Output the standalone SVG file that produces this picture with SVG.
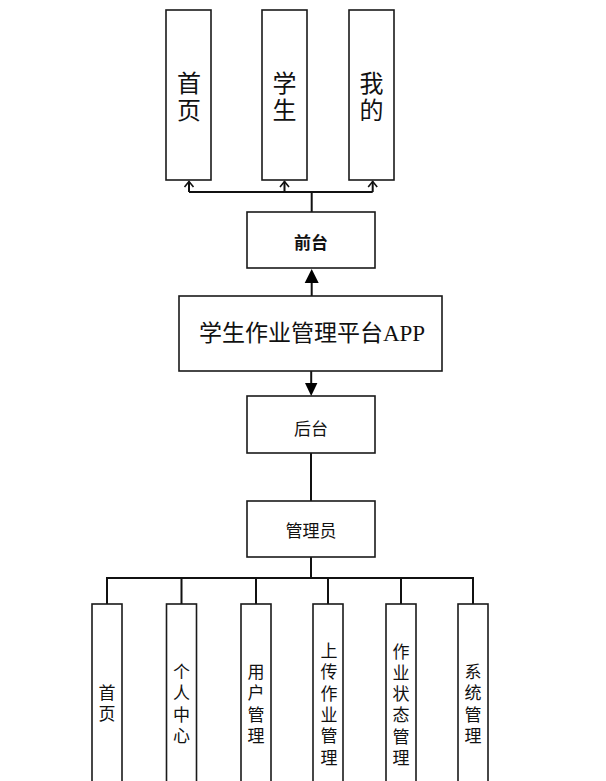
<svg xmlns="http://www.w3.org/2000/svg" width="606" height="781" viewBox="0 0 606 781">
<style>
.box{fill:#fff;stroke:#1a1a1a;stroke-width:1.6}
.ln{fill:none;stroke:#111;stroke-width:2}
.chev{fill:none;stroke:#111;stroke-width:1.6}
.serif{font-family:"Liberation Serif","Noto Sans CJK SC",serif;fill:#111;text-anchor:middle}
.sans{font-family:"Noto Sans CJK SC","Liberation Sans",sans-serif;fill:#111;text-anchor:middle}
.big{font-size:24px}
.small{font-size:17px}
.mid{font-size:17px}
</style>
<g id="connectors">
<path class="ln" d="M311.7,212 V192"/>
<path class="ln" d="M189,192 H372.7"/>
<path class="ln" d="M189,192 V181.5 M284.5,192 V181.5 M372.7,192 V181.5"/>
<path class="chev" d="M184.5,187 L189,181.5 L193.5,187 M280,187 L284.5,181.5 L289,187 M368.2,187 L372.7,181.5 L377.2,187"/>
<path class="ln" d="M311.7,296 V282"/>
<path d="M311.7,269 L318.7,283 L304.7,283 Z" fill="#000"/>
<path class="ln" d="M311.2,371 V383"/>
<path d="M311.2,396 L305,383 L317.4,383 Z" fill="#000"/>
<path class="ln" d="M311,453 V501"/>
<path class="ln" d="M311,557 V578"/>
<path class="ln" d="M107,604 V578 H473 V604"/>
<path class="ln" d="M181.5,578 V604 M256,578 V604 M328,578 V604 M401,578 V604"/>
</g>
<g id="n-shouye">
<rect class="box" x="166" y="10" width="45" height="170"/>
<text class="serif big" x="189" y="92">首</text>
<text class="serif big" x="189" y="119">页</text>
</g>
<g id="n-xuesheng">
<rect class="box" x="262" y="10" width="45" height="170"/>
<text class="serif big" x="284.5" y="92">学</text>
<text class="serif big" x="284.5" y="119">生</text>
</g>
<g id="n-wode">
<rect class="box" x="349" y="10" width="45" height="170"/>
<text class="serif big" x="371.5" y="92">我</text>
<text class="serif big" x="371.5" y="119">的</text>
</g>
<g id="n-qiantai">
<rect class="box" x="247" y="212" width="128" height="56"/>
<text class="sans mid" x="311" y="249" font-weight="bold">前台</text>
</g>
<g id="n-app">
<rect class="box" x="179" y="296" width="263" height="75"/>
<text class="serif" x="312" y="341" font-size="23">学生作业管理平台APP</text>
</g>
<g id="n-houtai">
<rect class="box" x="247" y="396" width="128" height="57"/>
<text class="sans mid" x="311" y="435">后台</text>
</g>
<g id="n-guanliyuan">
<rect class="box" x="247" y="501" width="128" height="56"/>
<text class="sans mid" x="311" y="537">管理员</text>
</g>
<g id="b-shouye">
<rect class="box" x="92" y="604" width="30" height="190"/>
<text class="serif small" x="107" y="699">首</text>
<text class="serif small" x="107" y="720.3">页</text>
</g>
<g id="b-geren">
<rect class="box" x="166.5" y="604" width="30" height="190"/>
<text class="serif small" x="181.5" y="678">个</text>
<text class="serif small" x="181.5" y="699.3">人</text>
<text class="serif small" x="181.5" y="720.6">中</text>
<text class="serif small" x="181.5" y="742">心</text>
</g>
<g id="b-yonghu">
<rect class="box" x="241" y="604" width="30" height="190"/>
<text class="serif small" x="256" y="678">用</text>
<text class="serif small" x="256" y="699.3">户</text>
<text class="serif small" x="256" y="720.6">管</text>
<text class="serif small" x="256" y="742">理</text>
</g>
<g id="b-shangchuan">
<rect class="box" x="313" y="604" width="30" height="190"/>
<text class="serif small" x="329" y="657">上</text>
<text class="serif small" x="329" y="678.3">传</text>
<text class="serif small" x="329" y="699.6">作</text>
<text class="serif small" x="329" y="720.9">业</text>
<text class="serif small" x="329" y="742.2">管</text>
<text class="serif small" x="329" y="763.5">理</text>
</g>
<g id="b-zhuangtai">
<rect class="box" x="386" y="604" width="30" height="190"/>
<text class="serif small" x="401" y="657.5">作</text>
<text class="serif small" x="401" y="678.8">业</text>
<text class="serif small" x="401" y="700.1">状</text>
<text class="serif small" x="401" y="721.4">态</text>
<text class="serif small" x="401" y="742.7">管</text>
<text class="serif small" x="401" y="764">理</text>
</g>
<g id="b-xitong">
<rect class="box" x="458" y="604" width="30" height="190"/>
<text class="serif small" x="473" y="678">系</text>
<text class="serif small" x="473" y="699.3">统</text>
<text class="serif small" x="473" y="720.6">管</text>
<text class="serif small" x="473" y="742">理</text>
</g>
</svg>
